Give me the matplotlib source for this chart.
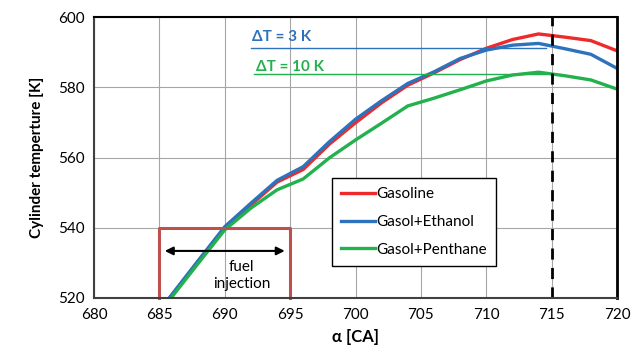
import matplotlib.pyplot as plt

plt.rcParams['font.family'] = ['Lato', 'DejaVu Sans']

alpha = [684, 686, 688, 690, 692, 694, 696, 698, 700, 702, 704, 706, 708, 710, 712, 714, 716, 718, 720]
gasoline = [511.5, 521.0, 530.5, 540.0, 546.5, 553.0, 556.6, 563.8, 569.9, 575.6, 580.6, 584.1, 587.9,
            591.1, 593.6, 595.2, 594.3, 593.3, 590.4]
ethanol = [511.5, 521.2, 530.8, 540.3, 547.0, 553.5, 557.4, 564.5, 570.9, 576.2, 581.1, 584.4, 588.2,
           590.6, 592.0, 592.5, 591.0, 589.4, 585.4]
penthane = [511.0, 520.5, 530.0, 539.4, 545.6, 550.8, 553.9, 559.9, 565.0, 569.8, 574.7, 576.9, 579.3,
            581.8, 583.5, 584.3, 583.3, 582.1, 579.5]

fig = plt.figure(figsize=(6.43, 3.56), dpi=100)
ax = fig.add_axes([0.1462, 0.163, 0.8134, 0.789])

ax.plot(alpha, gasoline, color='#EE2A2A', lw=2.4, label='Gasoline')
ax.plot(alpha, ethanol, color='#2C72BD', lw=2.4, label='Gasol+Ethanol')
ax.plot(alpha, penthane, color='#22B14C', lw=2.4, label='Gasol+Penthane')

# delta T markers
ax.plot([692, 714.6], [591.2, 591.2], color='#2C72BD', lw=1)
ax.plot([692.2, 714.6], [583.8, 583.8], color='#22B14C', lw=1)
ax.text(692.1, 594.2, 'ΔT = 3 K', color='#2C72BD', fontsize=11, fontweight='bold', va='center')
ax.text(692.4, 585.7, 'ΔT = 10 K', color='#22B14C', fontsize=11, fontweight='bold', va='center')

ax.axvline(715, color='black', lw=2, ls=(0, (4, 3)))

# fuel injection window
ax.plot([685, 685, 695, 695], [520, 540, 540, 520], color='#C0504D', lw=2.2, clip_on=False)
ax.annotate('', xy=(685.2, 533.4), xytext=(694.8, 533.4),
            arrowprops=dict(arrowstyle='<|-|>', color='black', lw=1.5, mutation_scale=12))
ax.text(691.3, 526.3, 'fuel\ninjection', fontsize=11, ha='center', va='center', linespacing=1.25)

ax.set_xlim(680, 720)
ax.set_ylim(520, 600)
ax.set_xticks(range(680, 721, 5))
ax.set_yticks(range(520, 601, 20))
ax.tick_params(length=0, labelsize=11, pad=7)
ax.grid(True, color='#A6A6A6', lw=0.8)
ax.set_axisbelow(True)
for s in ['left', 'bottom']:
    ax.spines[s].set_color('#404040')
    ax.spines[s].set_linewidth(1.5)
ax.spines['top'].set_color('black')
ax.spines['top'].set_linewidth(1.5)
ax.spines['right'].set_color('black')
ax.spines['right'].set_linewidth(2)

ax.set_ylabel('Cylinder temperture [K]', fontsize=11, fontweight='bold', labelpad=10)
ax.set_xlabel('α [CA]', fontsize=12, fontweight='bold', labelpad=5)

leg = ax.legend(loc='lower left', bbox_to_anchor=(0.455, 0.114), fontsize=11, fancybox=False,
                edgecolor='black', framealpha=1, handlelength=2.2, handletextpad=0.1,
                labelspacing=0.9, borderpad=0.6, borderaxespad=0)
leg.get_frame().set_linewidth(1)

fig.savefig('out.png', dpi=100)
